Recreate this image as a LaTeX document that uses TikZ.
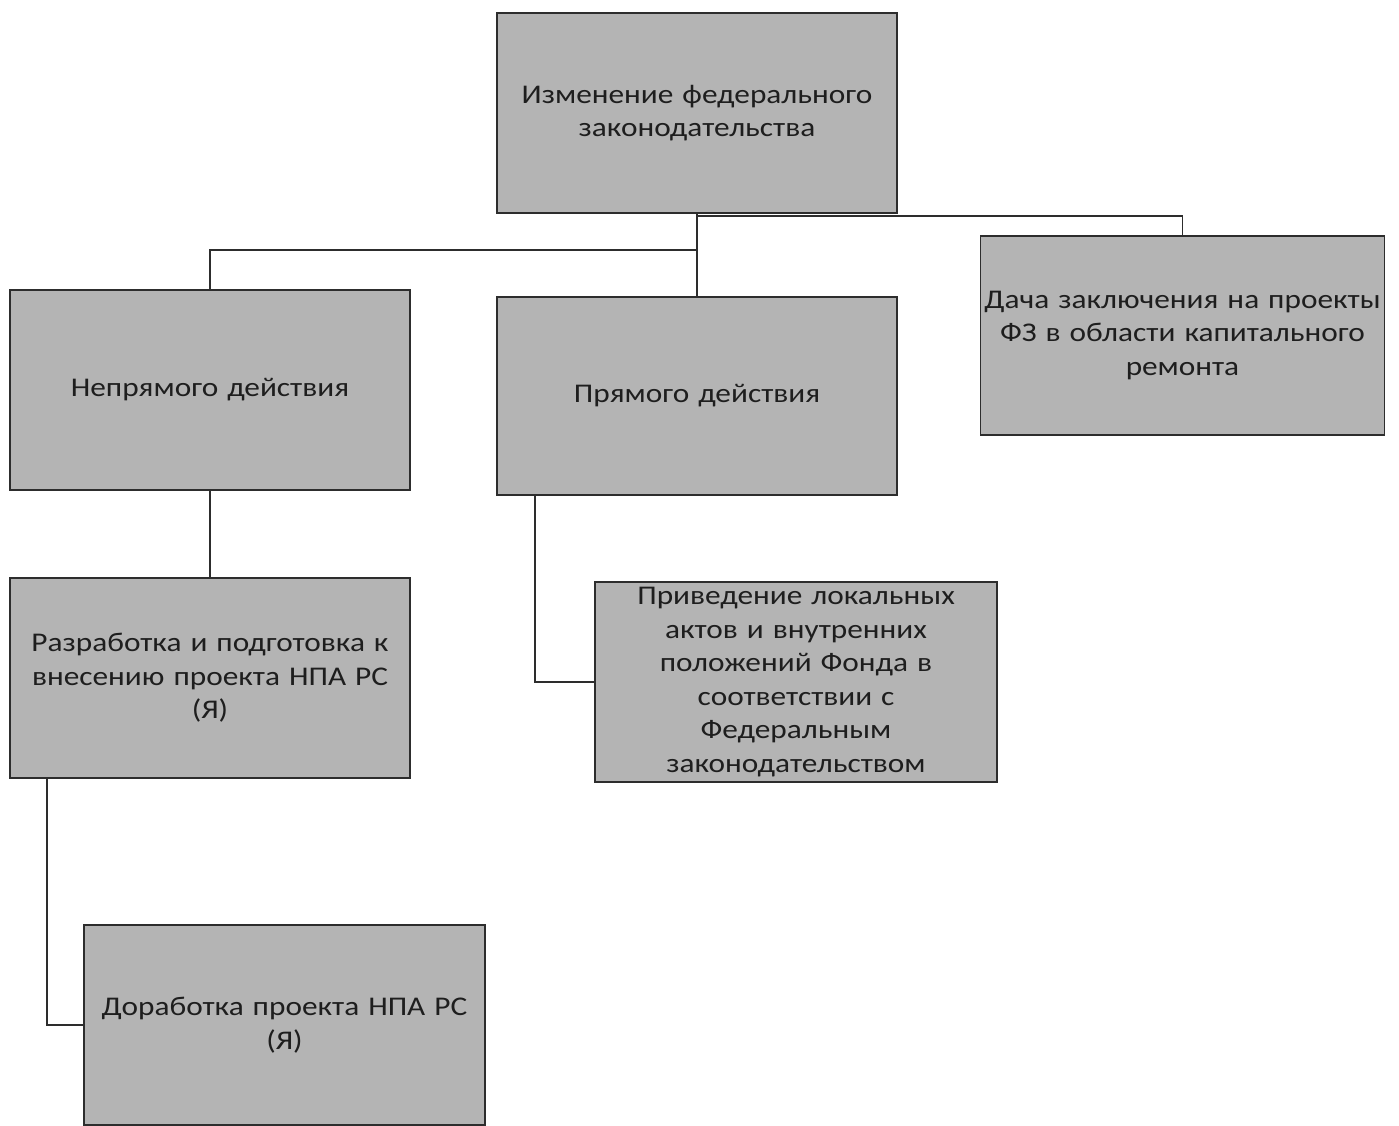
\documentclass[tikz,border=0pt]{standalone}
\usepackage{fontspec}
\setmainfont{Carlito}[FakeStretch=1.16]
\definecolor{boxgray}{RGB}{180,180,180}
\definecolor{linegray}{RGB}{45,45,45}
\definecolor{txt}{RGB}{30,30,30}
\begin{document}
\begin{tikzpicture}[x=1pt,y=-1pt,
  box/.style={rectangle,draw=linegray,line width=1.5pt,fill=boxgray,
    minimum width=400pt,minimum height=200pt,text width=400pt,align=center,
    inner sep=0pt,text=txt,font=\fontsize{27}{33.5}\selectfont},
  conn/.style={draw=linegray,line width=1.8pt}]
\useasboundingbox (0,0) rectangle (1399,1125);
\node[box] (top) at (697,113) {Изменение федерального\\законодательства};
\node[box,minimum width=401pt,minimum height=199pt,text width=404pt] (right) at (1182.5,335.5) {Дача заключения на проекты\\ФЗ в области капитального\\ремонта};
\node[box] (left) at (210,390) {Непрямого действия};
\node[box,minimum height=198pt] (mid) at (697,396) {Прямого действия};
\node[box] (razr) at (210,678) {Разработка и подготовка к\\внесению проекта НПА РС\\(Я)};
\node[box,minimum width=402pt] (priv) at (796,682) {Приведение локальных\\актов и внутренних\\положений Фонда в\\соответствии с\\Федеральным\\законодательством};
\node[box,minimum width=401pt] (dorab) at (284.5,1025) {Доработка проекта НПА РС\\(Я)};
\coordinate (j) at (697,250);
\coordinate (jr) at (697,216);
\draw[conn] (top.south) -- (mid.north);
\draw[conn] (j) -| (left.north);
\draw[conn] (jr) -| (right.north);
\draw[conn] ([xshift=-162pt]mid.south) |- (priv.west);
\draw[conn] ([xshift=-163pt]razr.south) |- (dorab.west);
\draw[conn] (left.south) -- (razr.north);
\end{tikzpicture}
\end{document}
